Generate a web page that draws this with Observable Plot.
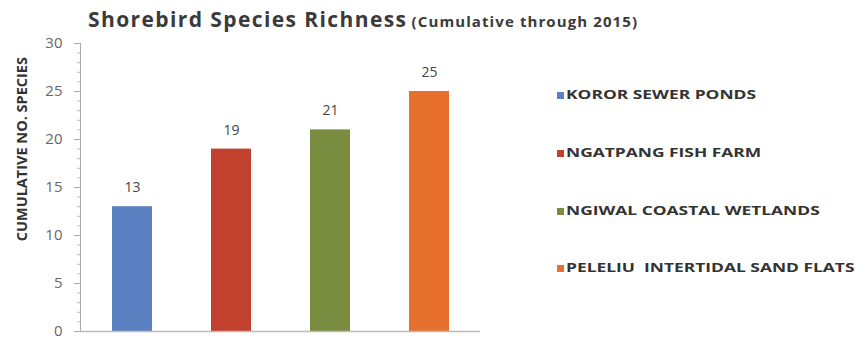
<!DOCTYPE html>
<html>
<head>
<meta charset="utf-8">
<script src="https://cdn.jsdelivr.net/npm/d3@7"></script>
<script src="https://cdn.jsdelivr.net/npm/@observablehq/plot@0.6"></script>
<style>
  html, body { margin: 0; padding: 0; background: #fff; }
  #wrap { position: relative; width: 866px; height: 339px; overflow: hidden; font-family: "Open Sans", sans-serif; }
  #title { position: absolute; left: 88px; top: 5px; white-space: nowrap; color: #3a3a3a; transform-origin: left center; }
  #title .main { font-size: 21px; font-weight: 700; letter-spacing: 1.4px; }
  #title .sub { font-size: 15px; font-weight: 700; letter-spacing: 1.1px; }
  #legend { position: absolute; left: 557px; top: 0; }
  .item { position: absolute; left: 0; white-space: pre; font-size: 12px; font-weight: 700; color: #333; }
  .sw { position: absolute; left: 0; top: 6px; width: 7px; height: 7px; }
  .lt { position: absolute; left: 9px; top: 0; transform: scaleX(1.45); transform-origin: left center; }
</style>
</head>
<body>
<div id="wrap">
  <div id="chart"></div>
  <div id="title"><span class="main">Shorebird Species Richness</span> <span class="sub">(Cumulative through 2015)</span></div>
  <div id="legend"></div>
</div>
<script>
const sites = ["KOROR SEWER PONDS", "NGATPANG FISH FARM", "NGIWAL COASTAL WETLANDS", "PELELIU  INTERTIDAL SAND FLATS"];
const species = [13, 19, 21, 25];
const colors = ["#5b80c2", "#c2402e", "#7a8c3f", "#e8702f"];
const majorTicks = [0, 5, 10, 15, 20, 25, 30];
const yLabel = "CUMULATIVE NO. SPECIES";

const data = sites.map((s, i) => ({site: s, value: species[i], color: colors[i]}));

const chart = Plot.plot({
  width: 866,
  height: 339,
  marginLeft: 80,
  marginRight: 386,
  marginTop: 43,
  marginBottom: 8,
  style: {fontFamily: "Open Sans, sans-serif", background: "#fff"},
  x: {domain: sites, paddingInner: 0.6, paddingOuter: 0.32, axis: null},
  y: {domain: [0, 30], label: null},
  marks: [
    Plot.axisY({ticks: d3.range(0, 31), tickSize: 3, text: null, stroke: "#bbb", label: null}),
    Plot.axisY({ticks: majorTicks, tickSize: 6, tickPadding: 12, stroke: "#aaa", fill: "#666", fontSize: 15, label: null}),
    Plot.frame({anchor: "left", stroke: "#aaa"}),
    Plot.barY(data, {x: "site", y: "value", fill: "color"}),
    Plot.ruleY([0], {stroke: "#bbb", strokeWidth: 1.5}),
    Plot.text(data, {x: "site", y: "value", text: d => String(d.value), dy: -19, fontSize: 14, fill: "#444"}),
    Plot.text([yLabel], {frameAnchor: "left", dx: -58, y: 19, rotate: -90, textAnchor: "middle", fontSize: 14.5, fontWeight: 700, fill: "#333"})
  ]
});
document.getElementById("chart").appendChild(chart);

const tops = [96, 154, 212, 269];
const legend = document.getElementById("legend");
sites.forEach((s, i) => {
  const div = document.createElement("div");
  div.className = "item";
  div.style.top = (tops[i] - 10) + "px";
  const sw = document.createElement("span");
  sw.className = "sw";
  sw.style.background = colors[i];
  const t = document.createElement("span");
  t.className = "lt";
  t.textContent = s;
  div.appendChild(sw);
  div.appendChild(t);
  legend.appendChild(div);
});
</script>
</body>
</html>
